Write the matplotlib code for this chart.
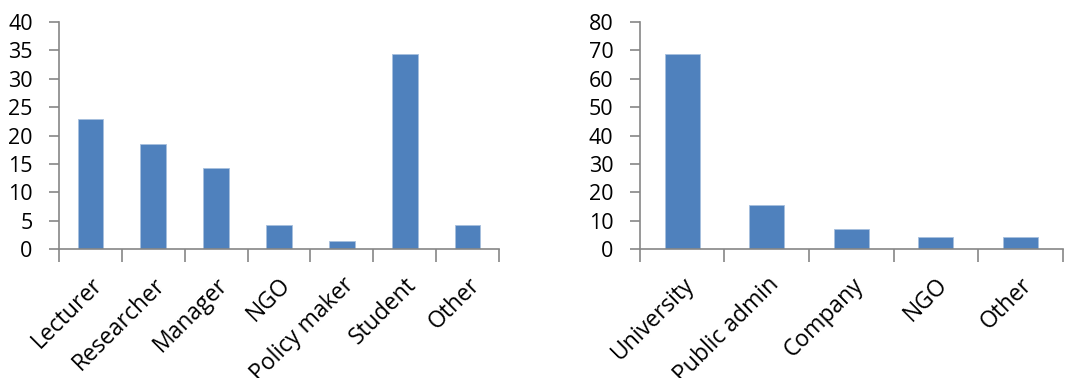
import numpy as np
import matplotlib.pyplot as plt

# data (percent)
roles = ['Lecturer', 'Researcher', 'Manager', 'NGO', 'Policy maker', 'Student', 'Other']
role_vals = [22.9, 18.5, 14.2, 4.2, 1.4, 34.3, 4.2]

orgs = ['University', 'Public admin', 'Company', 'NGO', 'Other']
org_vals = [68.6, 15.7, 7.1, 4.2, 4.2]

bar_color = '#4F81BD'
axis_color = '#868686'

plt.rcParams['font.family'] = ['Open Sans', 'DejaVu Sans']

fig = plt.figure(figsize=(10.81, 3.78), dpi=100)

def draw(ax, cats, vals, ymax, ystep):
    x = np.arange(len(cats))
    ax.bar(x, vals, width=0.41, color=bar_color, edgecolor='#A7BFDE', linewidth=0.6, zorder=2)
    ax.set_xlim(-0.5, len(cats) - 0.5)
    ax.set_ylim(0, ymax)
    ax.set_yticks(np.arange(0, ymax + 1, ystep))
    # category boundaries get the tick marks, labels sit at centres
    ax.set_xticks(np.arange(-0.5, len(cats), 1.0), minor=True)
    ax.set_xticks(x)
    ax.set_xticklabels(cats, rotation=45, ha='right', va='top', rotation_mode='anchor')
    ax.tick_params(axis='x', which='major', length=0, pad=17, labelsize=16.5)
    ax.tick_params(axis='x', which='minor', length=9, width=1.2, color=axis_color, direction='out')
    ax.tick_params(axis='y', length=7, width=1.2, color=axis_color, direction='out', labelsize=15.5, pad=12)
    for s in ['top', 'right']:
        ax.spines[s].set_visible(False)
    for s in ['left', 'bottom']:
        ax.spines[s].set_color(axis_color)
        ax.spines[s].set_linewidth(1.2)

ax1 = fig.add_axes([0.0546, 0.341, 0.407, 0.601])
draw(ax1, roles, role_vals, 40, 5)

ax2 = fig.add_axes([0.592, 0.341, 0.391, 0.601])
draw(ax2, orgs, org_vals, 80, 10)

fig.savefig('out.png', dpi=100)
